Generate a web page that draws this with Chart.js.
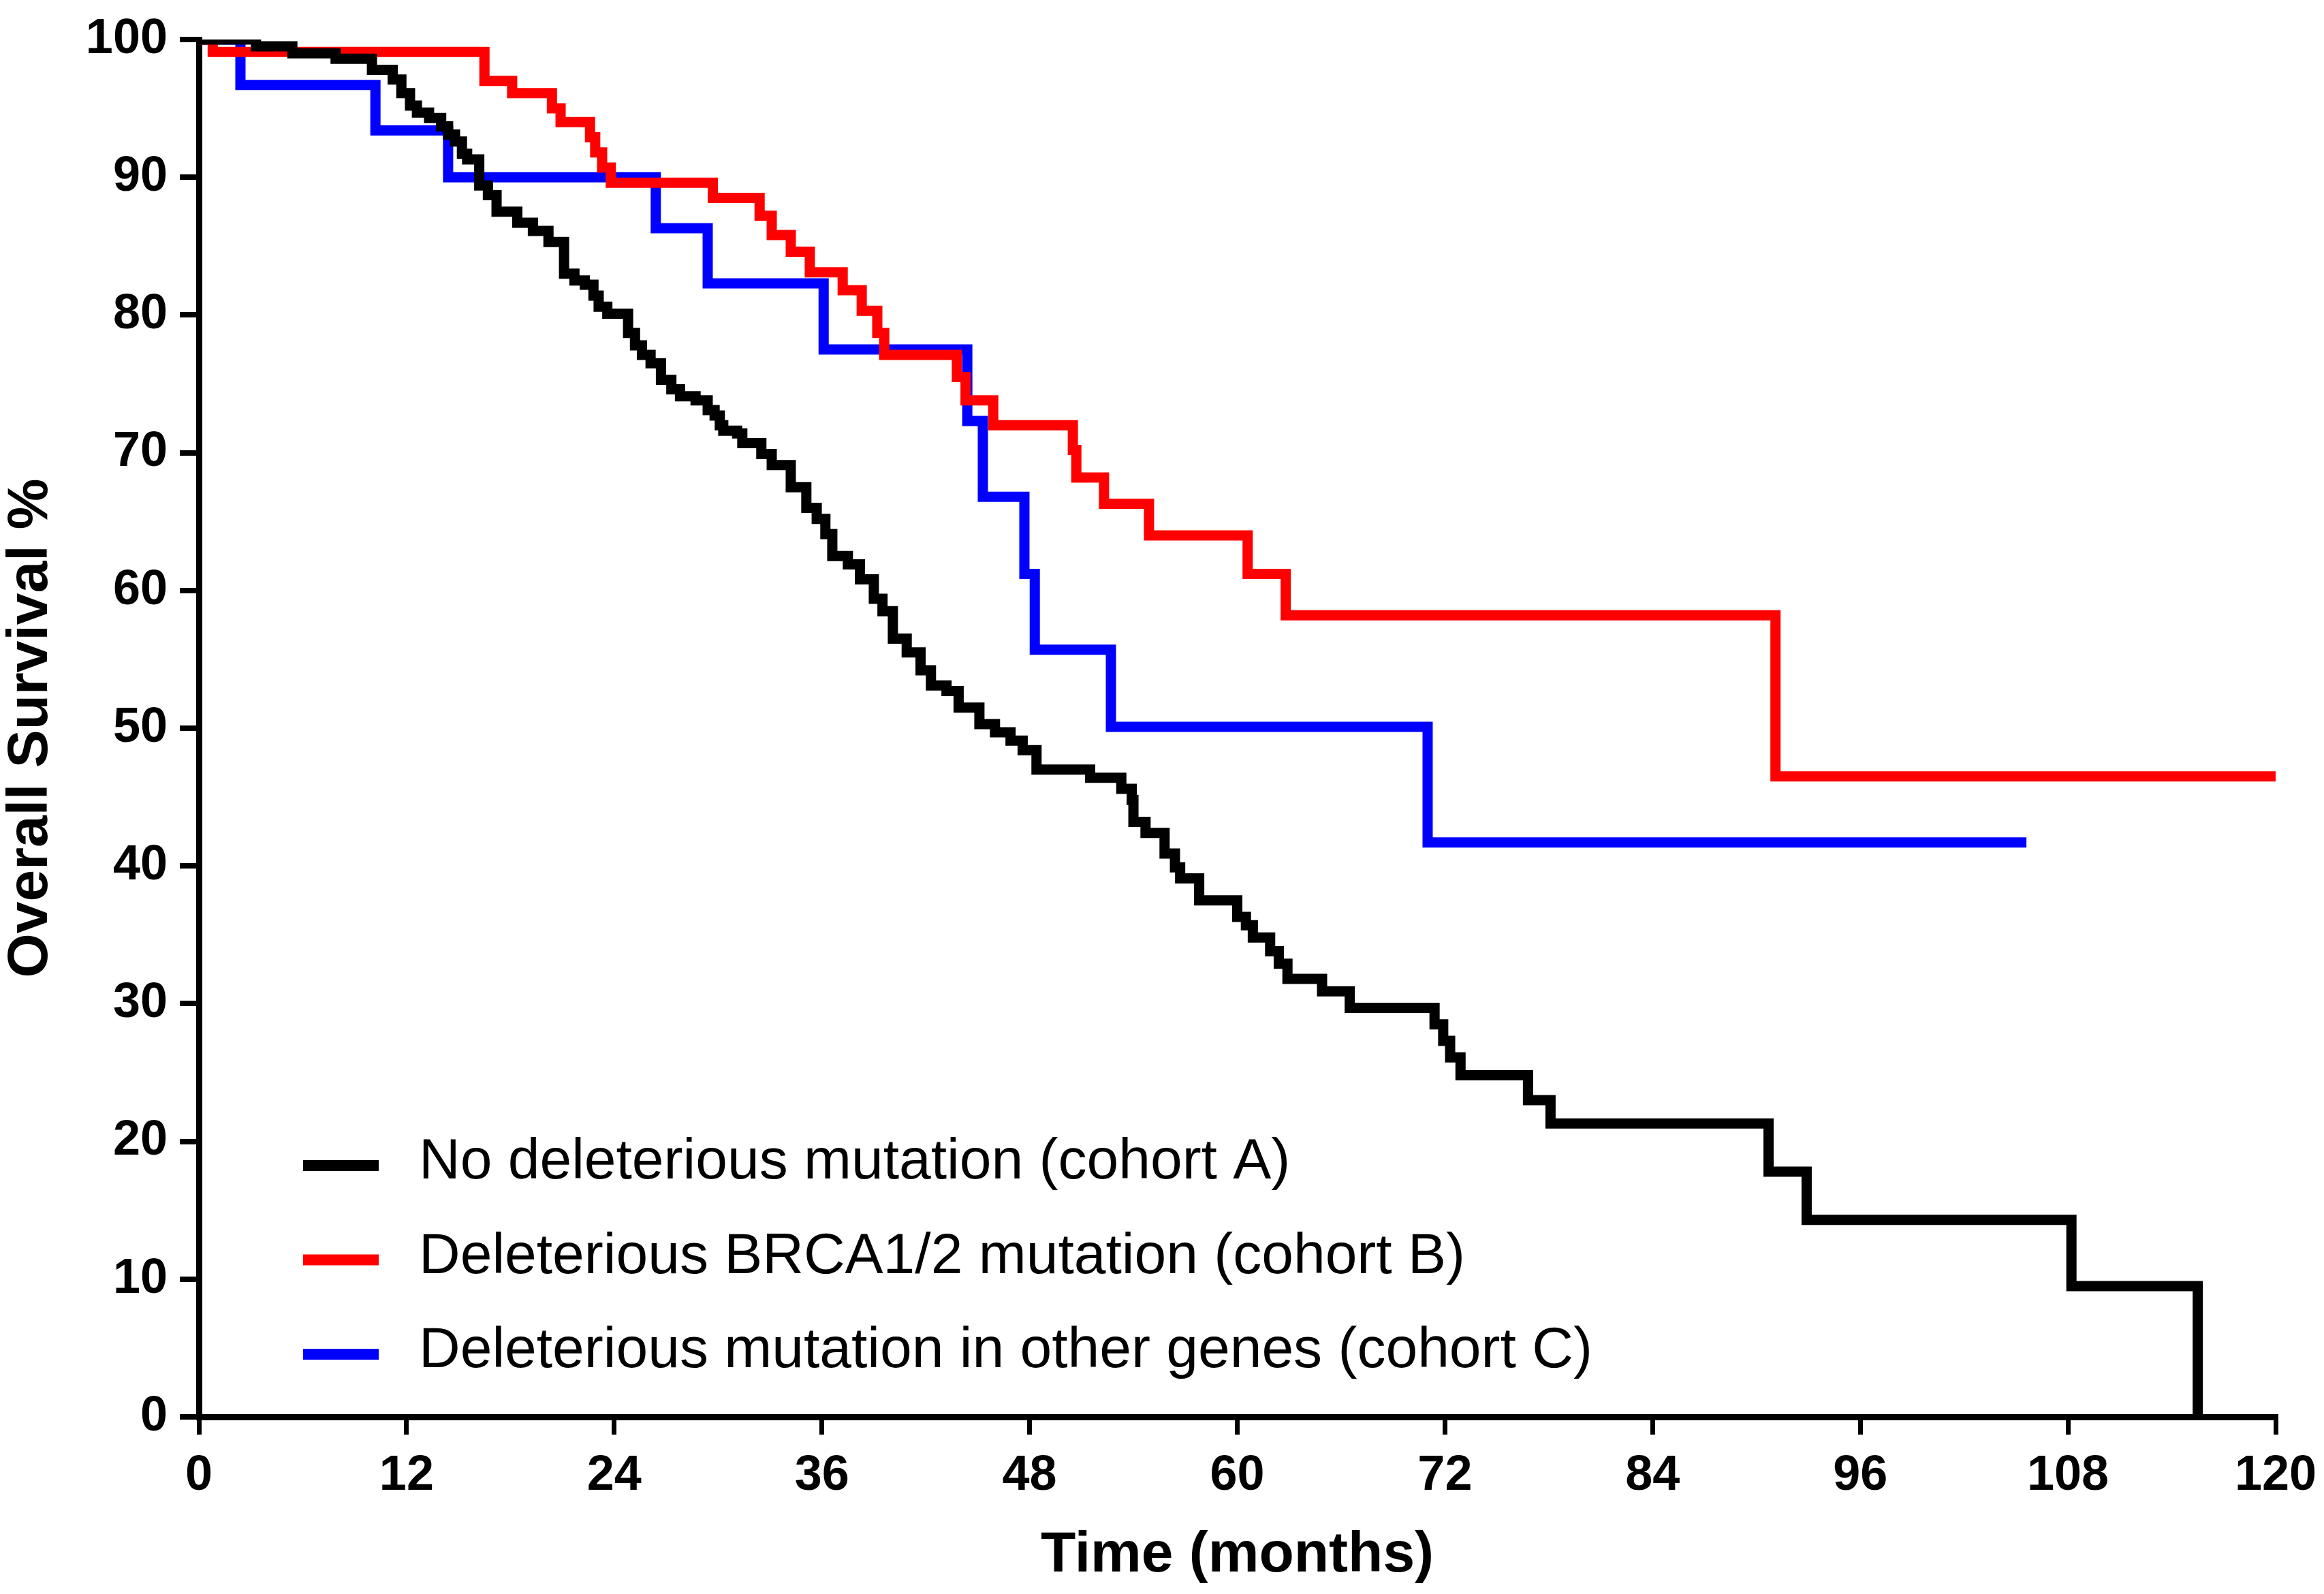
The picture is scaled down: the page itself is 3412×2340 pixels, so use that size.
<!DOCTYPE html>
<html><head><meta charset="utf-8">
<script src="https://cdn.jsdelivr.net/npm/chart.js@4.4.0/dist/chart.umd.min.js"></script>
<style>html,body{margin:0;padding:0;background:#fff;}canvas{display:block;}</style>
</head><body>
<canvas id="c" width="3412" height="2340"></canvas>
<script>
// ---- data (time in months, survival %) : each point = start of a new level ----
const seriesLabels = [
  'No deleterious mutation (cohort A)',
  'Deleterious BRCA1/2 mutation (cohort B)',
  'Deleterious mutation in other genes (cohort C)'
];
const seriesColors = ['#000000', '#FF0000', '#0000FF'];

const blackTime = [0, 3.3, 5.4, 7.9, 10.0, 11.2, 11.7, 12.2, 12.6, 13.3, 14.0, 14.4, 14.8, 15.2, 15.5, 16.2, 16.7, 17.2, 18.4, 19.3, 20.2, 21.1, 21.7, 22.3, 22.8, 23.1, 23.6, 24.8, 25.2, 25.6, 26.1, 26.7, 27.3, 27.8, 28.7, 29.4, 29.8, 30.1, 30.3, 31.1, 31.4, 32.5, 33.1, 34.2, 35.1, 35.7, 36.2, 36.6, 37.5, 38.2, 39.0, 39.5, 40.1, 40.9, 41.7, 42.3, 43.2, 43.9, 45.1, 46.0, 46.9, 47.6, 48.4, 51.5, 53.3, 53.9, 54.0, 54.7, 55.8, 56.4, 56.7, 57.8, 60.0, 60.5, 60.9, 61.9, 62.4, 62.9, 64.9, 66.5, 71.4, 71.9, 72.3, 72.9, 76.8, 78.1, 90.7, 92.9, 108.2, 115.5];
const blackSurv = [100, 99.5, 99.0, 98.6, 97.8, 97.1, 96.1, 95.2, 94.7, 94.3, 93.7, 93.1, 92.6, 91.7, 91.3, 89.4, 88.7, 87.5, 86.7, 86.1, 85.3, 83.0, 82.5, 82.2, 81.4, 80.6, 80.1, 78.7, 77.8, 77.1, 76.5, 75.3, 74.6, 74.1, 73.8, 73.1, 72.7, 72.0, 71.6, 71.4, 70.7, 69.9, 69.1, 67.5, 66.0, 65.2, 64.1, 62.5, 61.9, 60.8, 59.4, 58.5, 56.5, 55.5, 54.2, 53.1, 52.7, 51.5, 50.3, 49.7, 49.1, 48.4, 47.0, 46.4, 45.6, 44.8, 43.2, 42.4, 40.9, 39.9, 39.1, 37.5, 36.3, 35.7, 34.8, 33.8, 32.9, 31.8, 30.9, 29.7, 28.5, 27.3, 26.1, 24.8, 23.0, 21.3, 17.8, 14.3, 9.5, 0];

const redTime = [0, 0.8, 16.5, 18.1, 20.4, 20.9, 22.6, 22.9, 23.3, 23.8, 29.7, 32.4, 33.1, 34.2, 35.3, 37.2, 38.3, 39.2, 39.6, 43.8, 44.3, 45.9, 50.5, 50.7, 52.3, 54.9, 60.6, 62.8, 91.1, 120];
const redSurv = [100, 99.1, 97.0, 96.1, 95.0, 94.0, 92.9, 91.8, 90.7, 89.6, 88.5, 87.2, 85.8, 84.6, 83.1, 81.8, 80.3, 78.7, 77.1, 75.5, 73.8, 72.0, 70.2, 68.2, 66.3, 64.0, 61.2, 58.2, 46.5, 46.5];

const blueTime = [0, 2.4, 10.2, 14.4, 26.4, 29.4, 36.1, 44.4, 45.3, 47.7, 48.3, 52.7, 71.0, 105.6];
const blueSurv = [100, 96.7, 93.4, 90.0, 86.3, 82.3, 77.5, 72.3, 66.8, 61.2, 55.7, 50.1, 41.7, 41.7];

const xTickValues = [0, 12, 24, 36, 48, 60, 72, 84, 96, 108, 120];
const yTickValues = [0, 10, 20, 30, 40, 50, 60, 70, 80, 90, 100];
const xTitle = 'Time (months)';
const yTitle = 'Overall Survival %';

// ---- build ----
function pts(t, s) { return t.map((v, i) => ({x: v, y: s[i]})); }
const seriesData = [pts(blackTime, blackSurv), pts(redTime, redSurv), pts(blueTime, blueSurv)];

const datasets = seriesData.map((d, i) => ({
  label: seriesLabels[i],
  data: d,
  borderColor: seriesColors[i],
  backgroundColor: seriesColors[i],
  borderWidth: 15,
  stepped: 'before',
  pointRadius: 0,
  fill: false,
  borderCapStyle: 'butt',
  borderJoinStyle: 'miter'
}));

const legendPlugin = {
  id: 'kmLegend',
  afterDraw(chart) {
    const {ctx, chartArea} = chart;
    ctx.save();
    chart.data.datasets.forEach((ds, i) => {
      const y = chartArea.top + 1653 + i * 138.5;
      ctx.strokeStyle = ds.borderColor;
      ctx.lineWidth = 16;
      ctx.beginPath();
      ctx.moveTo(chartArea.left + 153, y);
      ctx.lineTo(chartArea.left + 264, y);
      ctx.stroke();
      ctx.fillStyle = '#000';
      ctx.font = '84px "Liberation Sans", Arial, sans-serif';
      ctx.textBaseline = 'middle';
      ctx.textAlign = 'left';
      ctx.fillText(ds.label, chartArea.left + 323, y - 4);
    });
    ctx.restore();
  }
};

const tickFont = {family: '"Liberation Sans", Arial, sans-serif', weight: 'bold', size: 72};
const titleFont = {family: '"Liberation Sans", Arial, sans-serif', weight: 'bold', size: 84, lineHeight: 1.1};

new Chart(document.getElementById('c'), {
  type: 'line',
  data: {datasets},
  plugins: [legendPlugin],
  options: {
    responsive: false,
    devicePixelRatio: 1,
    animation: false,
    layout: {padding: {left: 0, right: 71, top: 58, bottom: 0}},
    plugins: {legend: {display: false}, tooltip: {enabled: false}},
    scales: {
      x: {
        type: 'linear', min: 0, max: 120,
        afterBuildTicks: s => { s.ticks = xTickValues.map(v => ({value: v})); },
        afterFit: s => { s.height = 260; s.paddingLeft = 0; s.paddingRight = 0; },
        border: {display: true, width: 9, color: '#000'},
        grid: {display: true, drawOnChartArea: false, drawTicks: true, tickLength: 26, tickWidth: 7, tickColor: '#000', color: '#000', lineWidth: 7},
        ticks: {color: '#000', font: tickFont, padding: 18, maxRotation: 0, autoSkip: false},
        title: {display: true, text: xTitle, color: '#000', font: titleFont, padding: {top: 0, bottom: 10}}
      },
      y: {
        type: 'linear', min: 0, max: 100,
        afterBuildTicks: s => { s.ticks = yTickValues.map(v => ({value: v})); },
        afterFit: s => { s.width = 292; s.paddingTop = 0; s.paddingBottom = 0; },
        border: {display: true, width: 9, color: '#000'},
        grid: {display: true, drawOnChartArea: false, drawTicks: true, tickLength: 28, tickWidth: 8, tickColor: '#000', color: '#000', lineWidth: 8},
        ticks: {color: '#000', font: tickFont, padding: 18, autoSkip: false},
        title: {display: true, text: yTitle, color: '#000', font: titleFont, padding: {top: 0, bottom: 0}}
      }
    }
  }
});
</script>
</body></html>
